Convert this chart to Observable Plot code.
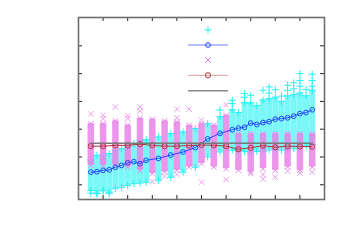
<!DOCTYPE html>
<html><head><meta charset="utf-8">
<script src="https://cdn.jsdelivr.net/npm/d3@7"></script>
<script src="https://cdn.jsdelivr.net/npm/@observablehq/plot@0.6"></script>
<style>
body{margin:0;background:#fff;font-family:"DejaVu Sans",sans-serif}
#c{position:relative;width:350px;height:245px}
#leg{position:absolute;left:0;top:0;pointer-events:none}
</style>
</head><body><div id="c"></div>
<script>
// ---- data ----
const cyanX    = [0.5,0.75,1,1.25,1.5,1.75,2,2.25,2.5,2.75,3.25,3.75,4.25,4.75,5.25,5.75,6.25,6.5,6.75,7,7.25,7.5,7.75,8,8.25,8.5,8.75,9,9.25,9.5];
const cyanCore = [0.90,1.06,1.06,1.12,1.24,1.30,1.36,1.48,1.60,1.62,1.72,1.84,1.90,2.02,2.20,2.45,2.70,2.60,2.95,2.95,2.85,3.05,3.10,3.15,3.00,3.20,3.25,3.30,3.20,3.40];
const cyanLo   = [-0.21,-0.32,-0.21,-0.30,-0.14,-0.09,-0.03,0.04,0.06,0.09,0.16,0.27,0.45,0.63,1.00,1.18,1.24,1.24,1.20,1.15,1.20,1.20,1.25,1.25,1.25,1.25,1.30,1.30,1.40,1.45];
const cyanOutX = [5.75,6.25,6.25,6.75,6.75,7,7.5,7.75,7.75,8,8.25,8.5,8.5,8.75,8.75,9,9,9,9.25,9.5,9.5,9.5,0.5,0.75,1.25,1];
const cyanOutY = [2.69,2.92,3.04,3.28,3.15,3.22,3.40,3.52,3.30,3.42,3.19,3.58,3.40,3.67,3.45,4.00,3.75,3.55,3.43,3.98,3.75,3.55,-0.30,-0.32,-0.30,-0.21];
const blueY    = [0.455,0.47,0.52,0.54,0.63,0.70,0.79,0.83,0.76,0.88,0.95,1.07,1.18,1.34,1.65,1.85,1.98,2.04,2.07,2.22,2.17,2.24,2.27,2.36,2.38,2.41,2.47,2.56,2.60,2.70];

const magX  = [0.5,1,1.5,2,2.5,3,3.5,4,4.5,5,5.5,6,6.5,7,7.5,8,8.5,9,9.5];
const magHi = [2.20,2.20,2.30,2.14,2.39,2.36,2.30,2.26,2.14,2.20,2.14,2.50,1.84,1.84,1.84,1.84,1.84,1.84,1.84];
const magLo = [0.70,0.70,0.70,0.64,0.52,0.40,0.46,0.52,0.64,0.76,0.64,0.58,0.52,0.46,0.58,0.52,0.64,0.52,0.64];
const magOutX = [0.5,1,1,1.5,2,2,2.5,2.5,3,3.5,4,4,4,4.5,5,5,6,6,7,7.5,7.5,8,8.5,9,9.5];
const magOutY = [2.55,2.50,2.38,2.80,2.48,2.38,2.80,2.65,0.12,0.31,2.72,2.41,0.37,2.72,2.32,0.09,2.88,0.19,0.40,0.37,0.20,0.27,0.49,0.42,0.45];
const redY  = [1.39,1.39,1.42,1.42,1.46,1.42,1.39,1.39,1.41,1.43,1.42,1.39,1.28,1.33,1.41,1.35,1.39,1.38,1.37];

const refX = [0.5, 9.5];
const refY = [1.49, 1.49];

const xTicks = [1,2,3,4,5,6,7,8,9];
const yTicks = [0,1,2,3,4,5];

// ---- tables ----
const cyan = cyanX.map((x,i)=>({x, lo: cyanLo[i], hi: cyanCore[i], b: blueY[i]}));
const cyanOut = cyanOutX.map((x,i)=>({x, y: cyanOutY[i]}));
const mag = magX.map((x,i)=>({x, lo: magLo[i], hi: magHi[i], r: redY[i]}));
const magOut = magOutX.map((x,i)=>({x, y: magOutY[i]}));
const ref = refX.map((x,i)=>({x, y: refY[i]}));

const W = 350, H = 245, mL = 78, mR = 26, mT = 17, mB = 46;
const pw = W - mL - mR, ph = H - mT - mB;
const CY = "#22f2f2", MG = "#e884e8", BL = "#2848ff", RD = "#b03838", GR = "#7a7a7a";

const chart = Plot.plot({
  width: W, height: H,
  marginLeft: mL, marginRight: mR, marginTop: mT, marginBottom: mB,
  x: {domain: [0, 10], axis: null},
  y: {domain: [-0.53, 6.02], axis: null},
  style: {background: "#fff"},
  marks: [
    Plot.ruleX(cyan, {x: "x", y1: "lo", y2: "hi", stroke: CY, strokeWidth: 6, strokeOpacity: 0.6}),
    Plot.dot(cyan, {x: "x", y: "lo", symbol: "plus", r: 2.4, stroke: CY, strokeWidth: 1}),
    Plot.dot(cyan, {x: "x", y: "hi", symbol: "plus", r: 2.4, stroke: CY, strokeWidth: 1}),
    Plot.dot(cyanOut, {x: "x", y: "y", symbol: "plus", r: 2.4, stroke: CY, strokeWidth: 1}),
    Plot.ruleX(mag, {x: "x", y1: "lo", y2: "hi", stroke: MG, strokeWidth: 6.5, strokeOpacity: 0.85}),
    Plot.dot(mag, {x: "x", y: "lo", symbol: "times", r: 2.6, stroke: MG, strokeWidth: 1}),
    Plot.dot(mag, {x: "x", y: "hi", symbol: "times", r: 2.6, stroke: MG, strokeWidth: 1}),
    Plot.dot(magOut, {x: "x", y: "y", symbol: "times", r: 2.6, stroke: MG, strokeWidth: 1, strokeOpacity: 0.8}),
    Plot.line(cyan, {x: "x", y: "b", stroke: BL, strokeWidth: 1}),
    Plot.dot(cyan, {x: "x", y: "b", r: 2.4, stroke: BL, strokeWidth: 1, fill: "none"}),
    Plot.line(mag, {x: "x", y: "r", stroke: RD, strokeWidth: 1}),
    Plot.dot(mag, {x: "x", y: "r", r: 2.6, stroke: RD, strokeWidth: 1, fill: "none"}),
    Plot.line(ref, {x: "x", y: "y", stroke: GR, strokeWidth: 1.5}),
    Plot.tickX(xTicks, {x: d => d, stroke: "#222", insetTop: ph - 4}),
    Plot.tickX(xTicks, {x: d => d, stroke: "#222", insetBottom: ph - 4}),
    Plot.tickY(yTicks, {y: d => d, stroke: "#222", insetRight: pw - 4}),
    Plot.tickY(yTicks, {y: d => d, stroke: "#222", insetLeft: pw - 4}),
    Plot.frame({stroke: "#6e6e6e", strokeWidth: 1.6})
  ]
});
document.getElementById("c").appendChild(chart);

// ---- legend (key only, no labels) ----
const leg = d3.select("#c").append("svg").attr("id","leg").attr("width", W).attr("height", H);
const lx1 = 188, lx2 = 228, lxm = 208;
const rows = [30, 45, 60, 75.3, 90.7];
const plusPath = d3.symbol(d3.symbolPlus, 18)();
const timesPath = d3.symbol(d3.symbolTimes, 21)();
leg.append("path").attr("d", plusPath).attr("transform", `translate(${lxm},${rows[0]})`).attr("stroke", CY).attr("fill","none");
leg.append("line").attr("x1", lx1).attr("x2", lx2).attr("y1", rows[1]).attr("y2", rows[1]).attr("stroke", "#6f7fff");
leg.append("circle").attr("cx", lxm).attr("cy", rows[1]).attr("r", 2.4).attr("stroke", BL).attr("fill","none");
leg.append("path").attr("d", timesPath).attr("transform", `translate(${lxm},${rows[2]})`).attr("stroke", MG).attr("fill","none");
leg.append("line").attr("x1", lx1).attr("x2", lx2).attr("y1", rows[3]).attr("y2", rows[3]).attr("stroke", "#d89a9a");
leg.append("circle").attr("cx", lxm).attr("cy", rows[3]).attr("r", 2.6).attr("stroke", RD).attr("fill","none");
leg.append("line").attr("x1", lx1).attr("x2", lx2).attr("y1", rows[4]).attr("y2", rows[4]).attr("stroke", "#8a8a8a").attr("stroke-width", 1.5);
</script>
</body></html>
